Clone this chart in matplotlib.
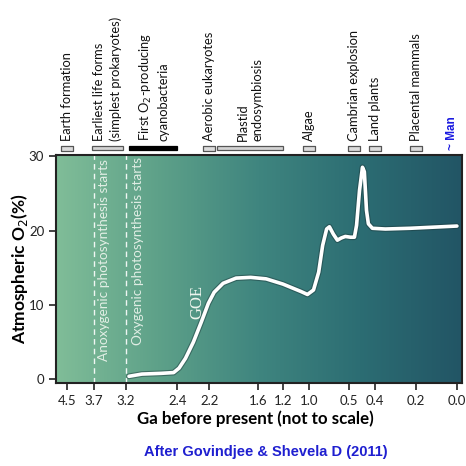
import numpy as np
import matplotlib
matplotlib.use("Agg")
import matplotlib.pyplot as plt
import matplotlib.patheffects as pe
from matplotlib.colors import LinearSegmentedColormap
from matplotlib.patches import Rectangle

plt.rcParams["font.family"] = ["Lato", "DejaVu Sans"]

# tick values (Ga) and where they sit along the axis (not to scale)
ga_ticks = [4.5, 3.7, 3.2, 2.4, 2.2, 1.6, 1.2, 1.0, 0.5, 0.4, 0.2, 0.0]
tick_pos = [65, 92, 124, 176, 208, 257, 282, 308, 348, 375, 416, 457]

# atmospheric O2 curve (Ga, %)
o2_ga = [3.15, 2.95, 2.65, 2.46, 2.39, 2.35, 2.30, 2.25, 2.206, 2.14, 2.03,
         1.87, 1.69, 1.47, 1.20, 1.06, 1.01, 0.94, 0.875, 0.825, 0.775, 0.74,
         0.69, 0.64, 0.59, 0.54, 0.493, 0.478, 0.470, 0.459, 0.448, 0.441,
         0.433, 0.426, 0.411, 0.351, 0.229, 0.0]
o2_pct = [0.4, 0.7, 0.8, 0.9, 1.5, 2.8, 5.0, 7.7, 10.2, 11.7, 12.9,
          13.6, 13.7, 13.5, 12.8, 11.8, 11.4, 12.0, 14.4, 18.0, 20.2, 20.5,
          19.5, 18.7, 19.0, 19.2, 19.1, 19.1, 20.7, 25.4, 28.5, 27.9,
          22.7, 20.9, 20.3, 20.2, 20.3, 20.6]

# events above the plot: label, start Ga, end Ga, style
ev_labels = ["Earth formation", "Earliest life forms\n(simplest prokaryotes)",
             "First O$_2$-producing\ncyanobacteria", "Aerobic eukaryotes",
             "Plastid\nendosymbiosis", "Algae", "Cambrian explosion",
             "Land plants", "Placental mammals"]
ev_start = [4.5, 3.75, 3.15, 2.2, 2.1, 1.0, 0.48, 0.4, 0.2]
ev_end = [4.5, 3.25, 2.4, 2.2, 1.2, 1.0, 0.48, 0.4, 0.2]
ev_black = [False, False, True, False, False, False, False, False, False]

xp = -np.array(ga_ticks)
fp = np.array(tick_pos, dtype=float)


def lin_ext(x, a, b):
    x = np.asarray(x, dtype=float)
    y = np.interp(x, a, b)
    lo = x < a[0]
    hi = x > a[-1]
    y = np.where(lo, b[0] + (x - a[0]) * (b[1] - b[0]) / (a[1] - a[0]), y)
    y = np.where(hi, b[-1] + (x - a[-1]) * (b[-1] - b[-2]) / (a[-1] - a[-2]), y)
    return y


# increasing in Ga (matplotlib expects a monotonic increasing scale)
def fwd(ga):
    return -lin_ext(-np.asarray(ga, dtype=float), xp, fp)


def inv(p):
    return -lin_ext(-np.asarray(p, dtype=float), fp, xp)


fig = plt.figure(figsize=(4.66, 4.66), dpi=100)
ax = fig.add_axes([56 / 466, 1 - 383 / 466, 406 / 466, 228 / 466])
ax.set_xscale("function", functions=(fwd, inv))

# background gradient
cmap = LinearSegmentedColormap.from_list(
    "bg", ["#80bd98", "#5ea189", "#3f857f", "#2c6d73", "#225565"])
grad = np.linspace(0, 1, 256).reshape(1, -1)
ax.imshow(grad, cmap=cmap, aspect="auto", extent=[0, 1, 0, 1],
          transform=ax.transAxes, zorder=0)

for g in [3.7, 3.2]:
    ax.axvline(g, color="white", lw=1.0, ls=(0, (4, 3)), alpha=0.9, zorder=1)

ax.text(3.54, 2.4, "Anoxygenic photosynthesis starts", rotation=90,
        ha="center", va="bottom", fontsize=9.8, color="#eef5ee", alpha=0.9)
ax.text(3.01, 4.6, "Oxygenic photosynthesis starts", rotation=90,
        ha="center", va="bottom", fontsize=9.8, color="#eef5ee", alpha=0.9)
ax.text(2.275, 10.4, "GOE", rotation=90, ha="center", va="center",
        fontsize=12, family="Liberation Serif", color="#eef5ee")

ax.plot(o2_ga, o2_pct, color="white", lw=2.6, zorder=3,
        solid_capstyle="round", solid_joinstyle="round",
        path_effects=[pe.Stroke(linewidth=4.2, foreground="#1d3a3c", alpha=0.5),
                      pe.Normal()])

ax.set_xlim(4.83, -0.025)
ax.set_ylim(-0.5, 30.15)

# event boxes and labels
tr = ax.get_xaxis_transform()
for lab, s, e, blk in zip(ev_labels, ev_start, ev_end, ev_black):
    if s == e:
        ax.plot([s], [1.03], transform=tr, clip_on=False, ls="none",
                marker=[(-1, -0.45), (1, -0.45), (1, 0.45), (-1, 0.45), (-1, -0.45)],
                markersize=8, mfc="#dcdcdc", mec="#555555", mew=0.9)
        xc = s
    else:
        ax.add_patch(Rectangle((s, 1.022), e - s, 0.0175, transform=tr,
                               clip_on=False,
                               fc="black" if blk else "#d4d4d4",
                               ec="black" if blk else "#555555", lw=0.9))
        xc = inv((fwd(s) + fwd(e)) / 2)
    ax.text(xc, 1.062, lab, transform=tr, rotation=90, ha="center",
            va="bottom", multialignment="left", fontsize=9.3, color="#111111",
            linespacing=1.35)

ax.text(0.025, 1.022, "~ Man", transform=tr, rotation=90, ha="center",
        va="bottom", fontsize=8.5, color="#1a1ae0", weight="bold",
        family="Liberation Sans")

ax.set_xticks(ga_ticks)
ax.set_xticklabels(["%.1f" % g for g in ga_ticks])
ax.set_xticks([], minor=True)
ax.set_yticks([0, 10, 20, 30])
ax.tick_params(axis="both", direction="out", length=5, width=1.2,
               labelsize=9.5, colors="#222222")

for sp in ax.spines.values():
    sp.set_color("#222222")
    sp.set_linewidth(1.5)

ax.set_ylabel("Atmospheric O$_2$(%)", fontsize=12.5, weight="bold")
ax.yaxis.label.set_va("center")
ax.yaxis.set_label_coords(-0.09, 0.5)
ax.set_xlabel("Ga before present (not to scale)", fontsize=12.2, weight="bold")
ax.xaxis.label.set_va("center")
ax.xaxis.set_label_coords(0.49, -0.155)

fig.text(266 / 466, 1 - 452 / 466, "After Govindjee & Shevela D (2011)",
         ha="center", va="center", color="#1f1fd0", weight="bold",
         fontsize=10.5, family="Liberation Sans")

fig.savefig("out.png", dpi=100)
